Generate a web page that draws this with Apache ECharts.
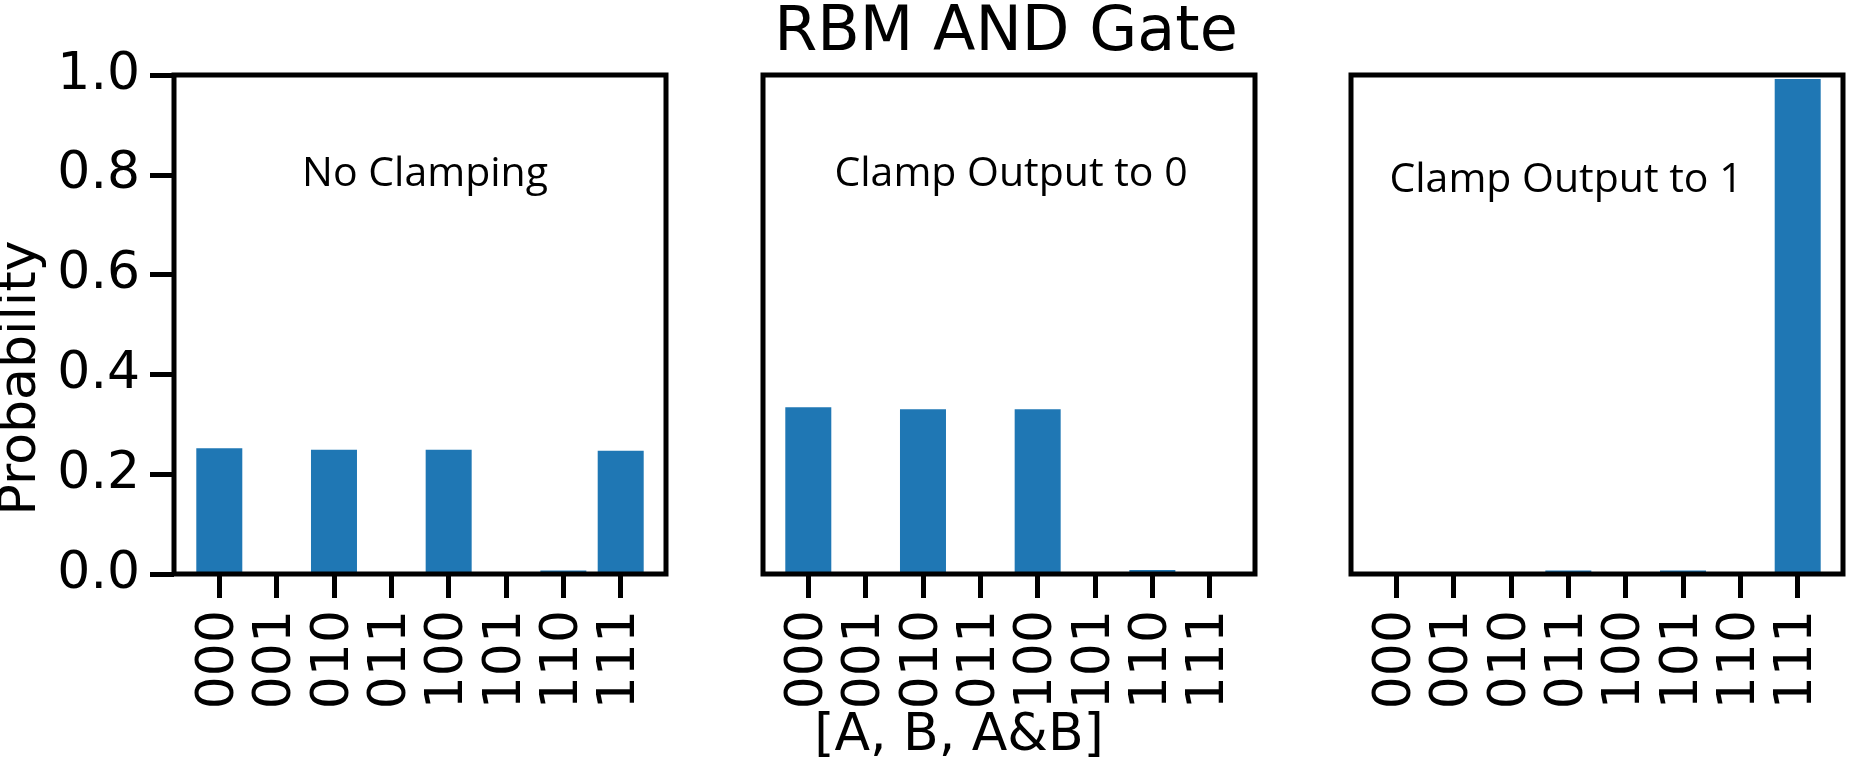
<!DOCTYPE html>
<html>
<head>
<meta charset="utf-8">
<script src="https://cdn.jsdelivr.net/npm/echarts@6/dist/echarts.min.js"></script>
<style>
html,body{margin:0;padding:0;background:#fff;}
#chart{width:1851px;height:765px;}
</style>
</head>
<body>
<div id="chart"></div>
<script>
// ---- data ----
const categories = ['000', '001', '010', '011', '100', '101', '110', '111'];
const noClamping = [0.252, 0, 0.249, 0, 0.249, 0, 0.007, 0.247];
const clampOutput0 = [0.334, 0, 0.330, 0, 0.330, 0, 0.008, 0];
const clampOutput1 = [0, 0, 0, 0.007, 0, 0.007, 0, 0.992];
const panelNotes = ['No Clamping', 'Clamp Output to 0', 'Clamp Output to 1'];
const chartTitle = 'RBM AND Gate';
const xAxisTitle = '[A, B, A&B]';
const yAxisTitle = 'Probability';

// ---- layout ----
const panelLefts = [174, 763, 1351];
const panelWidth = 492;
const panelTop = 75;
const panelHeight = 499;
const allSeries = [noClamping, clampOutput0, clampOutput1];
const barColor = '#1f77b4';
const catIdx = categories.map((c, i) => i);

const chart = echarts.init(document.getElementById('chart'), null, {renderer: 'canvas'});

const grids = [], xAxes = [], yAxes = [], series = [];
allSeries.forEach((vals, p) => {
  grids.push({
    left: panelLefts[p], top: panelTop, width: panelWidth, height: panelHeight,
    show: true, borderColor: '#000', borderWidth: 5, backgroundColor: 'transparent', z: 10
  });
  xAxes.push({
    gridIndex: p, type: 'value', min: -0.79, max: 7.79, position: 'bottom',
    axisLine: {show: false, onZero: false},
    splitLine: {show: false},
    axisTick: {show: true, inside: false, length: 24, lineStyle: {color: '#000', width: 5}, customValues: catIdx},
    axisLabel: {
      show: true, rotate: 90, margin: 36, customValues: catIdx,
      fontFamily: 'DejaVu Sans', fontSize: 52, color: '#000',
      formatter: v => categories[Math.round(v)]
    }
  });
  yAxes.push({
    gridIndex: p, type: 'value', min: 0, max: 1, interval: 0.2, position: 'left',
    axisLine: {show: false, onZero: false},
    splitLine: {show: false},
    axisTick: {show: p === 0, inside: false, length: 24, lineStyle: {color: '#000', width: 5}},
    axisLabel: {
      show: p === 0, margin: 34, fontFamily: 'DejaVu Sans', fontSize: 52, color: '#000',
      formatter: v => v.toFixed(1)
    }
  });
  series.push({
    type: 'bar', xAxisIndex: p, yAxisIndex: p,
    data: vals.map((v, i) => [i, v]),
    barWidth: 46,
    itemStyle: {color: barColor},
    silent: true
  });
});

const notePos = [[425, 174], [1011, 174], [1566, 180]];
const graphics = [
  {type: 'text', x: 1006, y: 34, style: {text: chartTitle, font: '62px "DejaVu Sans"', fill: '#000', align: 'center', verticalAlign: 'middle'}},
  {type: 'text', x: 959, y: 736, style: {text: xAxisTitle, font: '52px "DejaVu Sans"', fill: '#000', align: 'center', verticalAlign: 'middle'}},
  {type: 'text', x: 21, y: 378, rotation: Math.PI / 2, style: {text: yAxisTitle, font: '52px "DejaVu Sans"', fill: '#000', align: 'center', verticalAlign: 'middle'}}
];
panelNotes.forEach((t, p) => {
  graphics.push({type: 'text', x: notePos[p][0], y: notePos[p][1], z: 20,
    style: {text: t, font: '41px "Open Sans"', fill: '#000', align: 'center', verticalAlign: 'middle'}});
});

chart.setOption({
  animation: false,
  backgroundColor: '#fff',
  grid: grids,
  xAxis: xAxes,
  yAxis: yAxes,
  series: series,
  graphic: graphics
});
</script>
</body>
</html>
